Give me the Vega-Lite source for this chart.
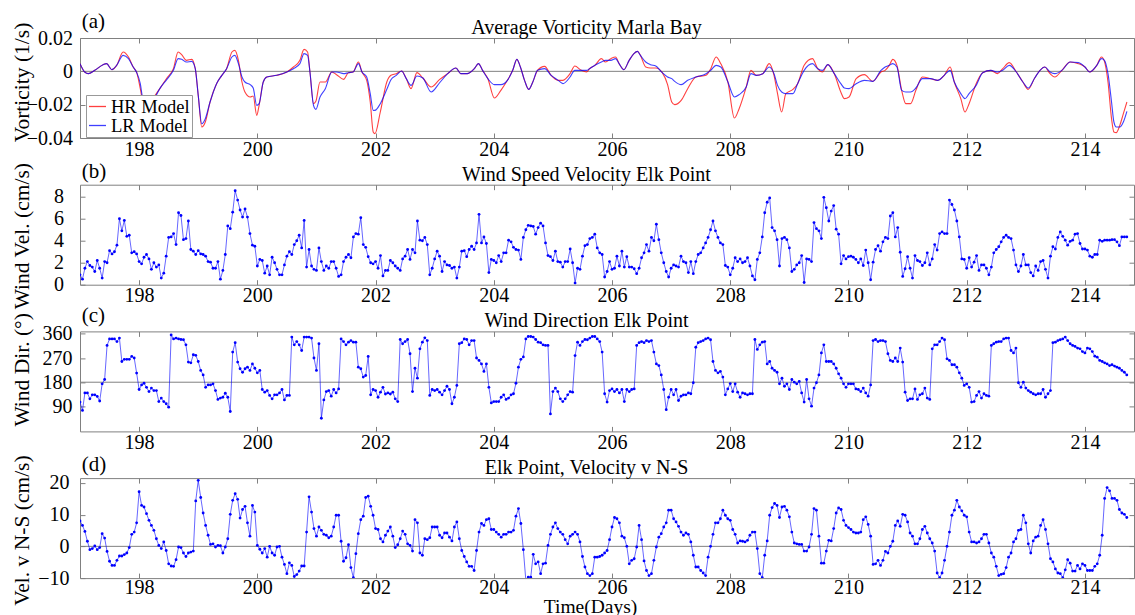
{
"$schema":"https://vega.github.io/schema/vega-lite/v6.json",
"background":"white",
"padding":{"left":10,"top":10,"right":0,"bottom":0},
"spacing":46.7,
"bounds":"flush",
"config":{
"font":"Liberation Serif",
"view":{"stroke":"#808080","strokeWidth":1},
"axis":{"domain":false,"grid":false,"tickColor":"#808080","tickSize":-5,"labelFont":"Liberation Serif","labelFontSize":20,"labelColor":"#000","titleFont":"Liberation Serif","titleFontSize":21.5,"titleFontWeight":"normal","titleColor":"#000"},
"text":{"font":"Liberation Serif"}
},
"datasets":{
"vort":[
{"t":197,"hr":0.0046,"lr":0.0046},{"t":197.08,"hr":-0.0004,"lr":-0.0004},{"t":197.14,"hr":-0.0014,"lr":-0.0014},{"t":197.25,"hr":0.0006,"lr":0.0006},{"t":197.39,"hr":0.004,"lr":0.004},{"t":197.45,"hr":0.0046,"lr":0.0046},{"t":197.54,"hr":0.001,"lr":0.001},{"t":197.62,"hr":0.0036,"lr":0.0036},{"t":197.73,"hr":0.0116,"lr":0.0096},{"t":197.82,"hr":0.0086,"lr":0.0076},{"t":197.9,"hr":0.0026,"lr":0.0026},{"t":197.96,"hr":-0.0008,"lr":-0.0008},
{"t":198.02,"hr":-0.0104,"lr":-0.0074},{"t":198.06,"hr":-0.018,"lr":-0.016},{"t":198.15,"hr":-0.024,"lr":-0.021},{"t":198.24,"hr":-0.0164,"lr":-0.0174},{"t":198.35,"hr":-0.0104,"lr":-0.0104},{"t":198.47,"hr":-0.004,"lr":-0.0048},{"t":198.58,"hr":0.0016,"lr":0.0006},{"t":198.66,"hr":0.0116,"lr":0.0076},{"t":198.72,"hr":0.01,"lr":0.0072},{"t":198.8,"hr":0.0066,"lr":0.0056},{"t":198.89,"hr":0.0072,"lr":0.006},{"t":198.95,"hr":0.0016,"lr":0.0016},
{"t":199,"hr":-0.0144,"lr":-0.0144},{"t":199.06,"hr":-0.0334,"lr":-0.0314},{"t":199.12,"hr":-0.0304,"lr":-0.0284},{"t":199.2,"hr":-0.0184,"lr":-0.0184},{"t":199.31,"hr":-0.0074,"lr":-0.0074},{"t":199.4,"hr":-0.0024,"lr":-0.0024},{"t":199.48,"hr":0.0016,"lr":0.0016},{"t":199.57,"hr":0.0116,"lr":0.0086},{"t":199.62,"hr":0.0126,"lr":0.0096},{"t":199.68,"hr":0.0066,"lr":0.0046},{"t":199.74,"hr":-0.0064,"lr":-0.0034},{"t":199.79,"hr":-0.0124,"lr":-0.0064},{"t":199.88,"hr":-0.0154,"lr":-0.008},{"t":199.93,"hr":-0.0148,"lr":-0.01},{"t":199.99,"hr":-0.0264,"lr":-0.0204},
{"t":200.03,"hr":-0.0204,"lr":-0.0194},{"t":200.1,"hr":-0.0064,"lr":-0.0064},{"t":200.16,"hr":-0.0034,"lr":-0.0034},{"t":200.33,"hr":-0.0024,"lr":-0.0024},{"t":200.5,"hr":-0.0004,"lr":-0.0004},{"t":200.61,"hr":0.0026,"lr":0.0016},{"t":200.72,"hr":0.0066,"lr":0.0046},{"t":200.79,"hr":0.0132,"lr":0.0106},{"t":200.85,"hr":0.0116,"lr":0.0096},{"t":200.89,"hr":-0.0004,"lr":-0.0004},{"t":200.95,"hr":-0.0194,"lr":-0.0204},{"t":200.99,"hr":-0.018,"lr":-0.0228},
{"t":201.06,"hr":-0.0064,"lr":-0.0154},{"t":201.15,"hr":-0.0064,"lr":-0.0104},{"t":201.26,"hr":-0.0004,"lr":-0.0004},{"t":201.34,"hr":-0.002,"lr":-0.0004},{"t":201.46,"hr":-0.0048,"lr":-0.0014},{"t":201.54,"hr":-0.0008,"lr":-0.0008},{"t":201.62,"hr":-0.0004,"lr":-0.0004},{"t":201.71,"hr":0.0056,"lr":0.0046},{"t":201.77,"hr":-0.0004,"lr":-0.0004},{"t":201.85,"hr":-0.0054,"lr":-0.0034},{"t":201.91,"hr":-0.0184,"lr":-0.0134},{"t":201.96,"hr":-0.0364,"lr":-0.0234},{"t":201.99,"hr":-0.0374,"lr":-0.0234},
{"t":202.08,"hr":-0.0244,"lr":-0.0194},{"t":202.19,"hr":-0.0064,"lr":-0.0108},{"t":202.26,"hr":-0.0024,"lr":-0.005},{"t":202.35,"hr":-0.0014,"lr":-0.0024},{"t":202.44,"hr":0.0002,"lr":0.0002},{"t":202.52,"hr":-0.0044,"lr":-0.0044},{"t":202.6,"hr":-0.0104,"lr":-0.0084},{"t":202.7,"hr":-0.0008,"lr":-0.0028},{"t":202.8,"hr":-0.004,"lr":-0.004},{"t":202.94,"hr":-0.0094,"lr":-0.0124},
{"t":203.08,"hr":-0.005,"lr":-0.007},{"t":203.22,"hr":-0.0014,"lr":-0.0014},{"t":203.36,"hr":0.002,"lr":0.002},{"t":203.44,"hr":-0.0014,"lr":-0.0014},{"t":203.55,"hr":-0.0014,"lr":-0.0014},{"t":203.67,"hr":0.0016,"lr":0.0016},{"t":203.74,"hr":0.0046,"lr":0.0046},{"t":203.81,"hr":0.0006,"lr":0.0006},{"t":203.9,"hr":-0.0044,"lr":-0.0044},
{"t":204.01,"hr":-0.016,"lr":-0.008},{"t":204.12,"hr":-0.0114,"lr":-0.008},{"t":204.23,"hr":-0.0054,"lr":-0.0054},{"t":204.32,"hr":0.0006,"lr":0.0006},{"t":204.39,"hr":0.0072,"lr":0.0072},{"t":204.45,"hr":0.0026,"lr":0.0026},{"t":204.52,"hr":-0.0054,"lr":-0.0054},{"t":204.59,"hr":-0.0108,"lr":-0.0108},{"t":204.66,"hr":-0.0064,"lr":-0.0064},{"t":204.74,"hr":0.0006,"lr":0.0006},{"t":204.86,"hr":0.003,"lr":0.0016},{"t":204.97,"hr":-0.0024,"lr":-0.0024},
{"t":205.09,"hr":-0.0054,"lr":-0.0054},{"t":205.17,"hr":-0.0054,"lr":-0.0074},{"t":205.29,"hr":-0.0014,"lr":-0.0034},{"t":205.37,"hr":0.0032,"lr":0.0006},{"t":205.48,"hr":0.0006,"lr":0.0006},{"t":205.57,"hr":-0.0004,"lr":0.0006},{"t":205.62,"hr":0.0016,"lr":0.0016},{"t":205.71,"hr":0.0036,"lr":0.0036},{"t":205.82,"hr":0.0076,"lr":0.0056},{"t":205.89,"hr":0.0056,"lr":0.0066},{"t":205.98,"hr":0.0076,"lr":0.0066},
{"t":206.06,"hr":0.0086,"lr":0.0076},{"t":206.12,"hr":0.0046,"lr":0.0046},{"t":206.2,"hr":0.001,"lr":0.001},{"t":206.29,"hr":0.0066,"lr":0.0066},{"t":206.37,"hr":0.0106,"lr":0.0106},{"t":206.43,"hr":0.012,"lr":0.012},{"t":206.48,"hr":0.0096,"lr":0.0096},{"t":206.57,"hr":0.0026,"lr":0.0056},{"t":206.65,"hr":0.002,"lr":0.004},{"t":206.74,"hr":0.002,"lr":0.0032},{"t":206.85,"hr":-0.0008,"lr":-0.0008},{"t":206.94,"hr":-0.008,"lr":-0.0034},
{"t":207.01,"hr":-0.0184,"lr":-0.0044},{"t":207.06,"hr":-0.02,"lr":-0.006},{"t":207.17,"hr":-0.0174,"lr":-0.008},{"t":207.28,"hr":-0.0104,"lr":-0.0054},{"t":207.42,"hr":-0.0034,"lr":-0.0034},{"t":207.59,"hr":-0.0024,"lr":-0.0014},{"t":207.67,"hr":0.0016,"lr":0.0006},{"t":207.76,"hr":0.0086,"lr":0.0036},{"t":207.84,"hr":0.0046,"lr":0.0026},{"t":207.96,"hr":-0.0064,"lr":-0.0064},
{"t":208.07,"hr":-0.028,"lr":-0.0154},{"t":208.15,"hr":-0.0224,"lr":-0.014},{"t":208.27,"hr":-0.0094,"lr":-0.0094},{"t":208.35,"hr":0.0006,"lr":-0.0014},{"t":208.44,"hr":-0.0024,"lr":-0.0024},{"t":208.55,"hr":-0.0014,"lr":-0.0014},{"t":208.66,"hr":0.0046,"lr":0.0026},{"t":208.74,"hr":-0.0024,"lr":-0.0014},{"t":208.8,"hr":-0.0134,"lr":-0.0084},{"t":208.87,"hr":-0.0244,"lr":-0.0124},{"t":208.94,"hr":-0.0134,"lr":-0.0134},
{"t":209.06,"hr":-0.0108,"lr":-0.0134},{"t":209.14,"hr":-0.0074,"lr":-0.0074},{"t":209.25,"hr":0.0036,"lr":0.0006},{"t":209.39,"hr":0.0076,"lr":0.0046},{"t":209.48,"hr":0.0016,"lr":0.0016},{"t":209.56,"hr":-0.0004,"lr":0.0006},{"t":209.65,"hr":0.004,"lr":0.004},{"t":209.76,"hr":-0.0014,"lr":-0.0014},{"t":209.87,"hr":-0.0124,"lr":-0.0074},{"t":209.93,"hr":-0.0164,"lr":-0.01},
{"t":210.01,"hr":-0.0154,"lr":-0.0104},{"t":210.13,"hr":-0.0044,"lr":-0.0074},{"t":210.27,"hr":-0.002,"lr":-0.0054},{"t":210.41,"hr":-0.006,"lr":-0.006},{"t":210.55,"hr":-0.0004,"lr":0.0006},{"t":210.62,"hr":0.0006,"lr":0.0026},{"t":210.69,"hr":0.0036,"lr":0.0036},{"t":210.75,"hr":0.0072,"lr":0.0046},{"t":210.82,"hr":0.0036,"lr":0.0026},{"t":210.9,"hr":-0.0114,"lr":-0.0114},{"t":210.97,"hr":-0.0194,"lr":-0.0124},
{"t":211.05,"hr":-0.0194,"lr":-0.0124},{"t":211.14,"hr":-0.0114,"lr":-0.01},{"t":211.25,"hr":-0.0034,"lr":-0.0044},{"t":211.39,"hr":-0.0044,"lr":-0.0044},{"t":211.51,"hr":-0.0054,"lr":-0.0054},{"t":211.62,"hr":-0.0024,"lr":-0.0024},{"t":211.72,"hr":0.0026,"lr":0.0006},{"t":211.79,"hr":-0.0064,"lr":-0.0064},{"t":211.9,"hr":-0.0164,"lr":-0.0134},{"t":211.97,"hr":-0.0244,"lr":-0.0164},
{"t":212.04,"hr":-0.0194,"lr":-0.0134},{"t":212.16,"hr":-0.0074,"lr":-0.0084},{"t":212.27,"hr":-0.0008,"lr":-0.0008},{"t":212.41,"hr":0.0006,"lr":0.0006},{"t":212.52,"hr":-0.0014,"lr":-0.0004},{"t":212.61,"hr":0.0016,"lr":0.0006},{"t":212.72,"hr":0.0052,"lr":0.0036},{"t":212.84,"hr":-0.0004,"lr":-0.0004},{"t":212.95,"hr":-0.0064,"lr":-0.0064},
{"t":213.04,"hr":-0.0108,"lr":-0.01},{"t":213.15,"hr":-0.004,"lr":-0.004},{"t":213.24,"hr":0.0006,"lr":0.0006},{"t":213.32,"hr":0.0026,"lr":0.0026},{"t":213.41,"hr":-0.0014,"lr":-0.0004},{"t":213.49,"hr":-0.0034,"lr":-0.0014},{"t":213.61,"hr":0.0006,"lr":0.0006},{"t":213.75,"hr":0.0056,"lr":0.0056},{"t":213.89,"hr":0.0046,"lr":0.0052},
{"t":214,"hr":0.0026,"lr":0.0026},{"t":214.08,"hr":-0.0004,"lr":-0.0004},{"t":214.2,"hr":0.0036,"lr":0.0036},{"t":214.28,"hr":0.0086,"lr":0.0076},{"t":214.33,"hr":0.006,"lr":0.0066},{"t":214.39,"hr":-0.0064,"lr":-0.0014},{"t":214.45,"hr":-0.0284,"lr":-0.0184},{"t":214.49,"hr":-0.0364,"lr":-0.0304},{"t":214.53,"hr":-0.0368,"lr":-0.0334},{"t":214.59,"hr":-0.0324,"lr":-0.0334},{"t":214.65,"hr":-0.0254,"lr":-0.0304},{"t":214.71,"hr":-0.0184,"lr":-0.024}
],
"elk":[
{"t":197,"w":0.9,"d":106,"n":8},{"t":197.042,"w":0.5,"d":75,"n":6.6},{"t":197.083,"w":1.5,"d":140,"n":4.7},{"t":197.125,"w":2.1,"d":140,"n":1.6},{"t":197.167,"w":1.75,"d":118,"n":-1.05},{"t":197.208,"w":1.6,"d":133,"n":-0.7},{"t":197.25,"w":1.2,"d":133,"n":0.1},{"t":197.292,"w":2.2,"d":127,"n":-1.05},{"t":197.333,"w":1.5,"d":110,"n":-0.4},{"t":197.375,"w":0.6,"d":174,"n":4},{"t":197.417,"w":2.1,"d":190,"n":2.6},{"t":197.458,"w":2,"d":317,"n":-1.6},{"t":197.5,"w":3.1,"d":341,"n":-4.7},{"t":197.542,"w":2.8,"d":341,"n":-6},{"t":197.583,"w":3,"d":341,"n":-6},{"t":197.625,"w":3.6,"d":331,"n":-4.4},{"t":197.667,"w":6,"d":344,"n":-3.05},{"t":197.708,"w":4.9,"d":257,"n":-3.05},{"t":197.75,"w":5.85,"d":265,"n":-2.6},{"t":197.792,"w":4.4,"d":265,"n":-2.1},{"t":197.833,"w":4.5,"d":265,"n":-0.4},{"t":197.875,"w":2.9,"d":276,"n":3.8},{"t":197.917,"w":3,"d":270,"n":4.5},{"t":197.958,"w":2.8,"d":214,"n":7.4},
{"t":198,"w":2.1,"d":153,"n":17.2},{"t":198.042,"w":1.9,"d":170,"n":12.9},{"t":198.083,"w":2.5,"d":176,"n":12.4},{"t":198.125,"w":2.75,"d":161,"n":10.3},{"t":198.167,"w":2.35,"d":145,"n":8.2},{"t":198.208,"w":1.4,"d":158,"n":6.6},{"t":198.25,"w":2,"d":149,"n":5.05},{"t":198.292,"w":1.6,"d":149,"n":2.4},{"t":198.333,"w":1.8,"d":108,"n":0.3},{"t":198.375,"w":0.6,"d":121,"n":-0.7},{"t":198.417,"w":1.05,"d":108,"n":1.4},{"t":198.458,"w":2.6,"d":100,"n":-1.3},{"t":198.5,"w":4.3,"d":87,"n":-5.5},{"t":198.542,"w":4.35,"d":356,"n":-6.2},{"t":198.583,"w":4.65,"d":341,"n":-6.3},{"t":198.625,"w":3.65,"d":344,"n":-4.2},{"t":198.667,"w":6.55,"d":341,"n":-0.2},{"t":198.708,"w":6.3,"d":339,"n":-0.4},{"t":198.75,"w":4.1,"d":338,"n":-2.1},{"t":198.792,"w":4.2,"d":319,"n":-3.2},{"t":198.833,"w":5.8,"d":255,"n":-2.1},{"t":198.875,"w":3.2,"d":252,"n":-1.8},{"t":198.917,"w":3.05,"d":282,"n":-1.5},{"t":198.958,"w":2.75,"d":280,"n":14.3},
{"t":199,"w":3.1,"d":257,"n":20.8},{"t":199.042,"w":2.8,"d":224,"n":15.4},{"t":199.083,"w":2.75,"d":207,"n":10.5},{"t":199.125,"w":2.6,"d":161,"n":6.6},{"t":199.167,"w":2.1,"d":170,"n":3.5},{"t":199.208,"w":2.05,"d":170,"n":0.6},{"t":199.25,"w":1.5,"d":174,"n":0.8},{"t":199.292,"w":1.5,"d":149,"n":-0.2},{"t":199.333,"w":2.1,"d":116,"n":0.3},{"t":199.375,"w":0.5,"d":121,"n":0.2},{"t":199.417,"w":1.3,"d":124,"n":-2.1},{"t":199.458,"w":2.75,"d":139,"n":-0.2},{"t":199.5,"w":5.35,"d":124,"n":2.4},{"t":199.542,"w":5.1,"d":71,"n":10.1},{"t":199.583,"w":6.6,"d":292,"n":14.5},{"t":199.625,"w":8.55,"d":327,"n":16.6},{"t":199.667,"w":7.7,"d":255,"n":14.8},{"t":199.708,"w":6.8,"d":230,"n":8.9},{"t":199.75,"w":6.15,"d":217,"n":11.6},{"t":199.792,"w":6.9,"d":230,"n":12.6},{"t":199.833,"w":6.15,"d":236,"n":7.4},{"t":199.875,"w":4.65,"d":224,"n":3.2},{"t":199.917,"w":3.6,"d":248,"n":12.9},{"t":199.958,"w":3.5,"d":232,"n":10.8},
{"t":200,"w":1.7,"d":215,"n":0.3},{"t":200.042,"w":2.3,"d":224,"n":-0.9},{"t":200.083,"w":2.2,"d":153,"n":-2.1},{"t":200.125,"w":1.05,"d":143,"n":-0.7},{"t":200.167,"w":1.7,"d":149,"n":-3.4},{"t":200.208,"w":0.9,"d":131,"n":0},{"t":200.25,"w":2.5,"d":118,"n":-2.1},{"t":200.292,"w":2,"d":133,"n":-2.8},{"t":200.333,"w":1.4,"d":133,"n":-0.2},{"t":200.375,"w":0.9,"d":140,"n":0},{"t":200.417,"w":0.9,"d":153,"n":-3.4},{"t":200.458,"w":1.8,"d":114,"n":-5.7},{"t":200.5,"w":2.6,"d":131,"n":-8.6},{"t":200.542,"w":3,"d":131,"n":-5.2},{"t":200.583,"w":2.75,"d":348,"n":-6},{"t":200.625,"w":3.65,"d":319,"n":-9.5},{"t":200.667,"w":4,"d":331,"n":-8.9},{"t":200.708,"w":4.5,"d":319,"n":-7.8},{"t":200.75,"w":3.35,"d":298,"n":-6.2},{"t":200.792,"w":5.85,"d":348,"n":-6.2},{"t":200.833,"w":1.6,"d":348,"n":4.5},{"t":200.875,"w":3.2,"d":348,"n":15.6},{"t":200.917,"w":1.7,"d":344,"n":10.8},{"t":200.958,"w":1.4,"d":270,"n":5.6},
{"t":201,"w":1.3,"d":224,"n":3.2},{"t":201.042,"w":3.35,"d":323,"n":6.1},{"t":201.083,"w":2.1,"d":46,"n":5.05},{"t":201.125,"w":1.3,"d":114,"n":3.8},{"t":201.167,"w":1.7,"d":145,"n":3.5},{"t":201.208,"w":1.5,"d":149,"n":2.7},{"t":201.25,"w":2.1,"d":128,"n":3.2},{"t":201.292,"w":2.1,"d":153,"n":6.1},{"t":201.333,"w":1.5,"d":140,"n":9.8},{"t":201.375,"w":0.75,"d":155,"n":9.8},{"t":201.417,"w":0.9,"d":341,"n":1.6},{"t":201.458,"w":2.1,"d":331,"n":-4.7},{"t":201.5,"w":2.5,"d":319,"n":-3.6},{"t":201.542,"w":2.75,"d":329,"n":0.5},{"t":201.583,"w":2.45,"d":335,"n":-6.7},{"t":201.625,"w":4.35,"d":329,"n":-9.9},{"t":201.667,"w":4.65,"d":329,"n":-2.3},{"t":201.708,"w":4.6,"d":236,"n":4},{"t":201.75,"w":6.1,"d":230,"n":8.4},{"t":201.792,"w":3.65,"d":199,"n":9.5},{"t":201.833,"w":3.4,"d":205,"n":15.4},{"t":201.875,"w":2.55,"d":276,"n":15.8},{"t":201.917,"w":2,"d":133,"n":12.6},{"t":201.958,"w":1.9,"d":153,"n":9.8},
{"t":202,"w":2.1,"d":149,"n":5.6},{"t":202.042,"w":1.5,"d":124,"n":5.3},{"t":202.083,"w":2.65,"d":143,"n":2.4},{"t":202.125,"w":0.8,"d":161,"n":1.4},{"t":202.167,"w":1.3,"d":136,"n":3.5},{"t":202.208,"w":1.3,"d":140,"n":4.8},{"t":202.25,"w":2.2,"d":136,"n":6.1},{"t":202.292,"w":2,"d":143,"n":3.2},{"t":202.333,"w":1.7,"d":118,"n":-0.4},{"t":202.375,"w":1.5,"d":108,"n":0.5},{"t":202.417,"w":1.3,"d":339,"n":2.4},{"t":202.458,"w":2.35,"d":323,"n":4.8},{"t":202.5,"w":2.6,"d":331,"n":3.8},{"t":202.542,"w":3.2,"d":339,"n":0.8},{"t":202.583,"w":2.3,"d":286,"n":0.3},{"t":202.625,"w":3.2,"d":145,"n":-1.5},{"t":202.667,"w":2.9,"d":232,"n":8.4},{"t":202.708,"w":5.8,"d":195,"n":7.4},{"t":202.75,"w":4.05,"d":304,"n":-2.1},{"t":202.792,"w":4,"d":329,"n":-2.8},{"t":202.833,"w":4.3,"d":345,"n":2.4},{"t":202.875,"w":3.65,"d":335,"n":2.1},{"t":202.917,"w":0.9,"d":131,"n":2.7},{"t":202.958,"w":1.5,"d":153,"n":6.1},
{"t":203,"w":2.35,"d":149,"n":6.1},{"t":203.042,"w":3.05,"d":153,"n":6.1},{"t":203.083,"w":2.6,"d":143,"n":3.5},{"t":203.125,"w":1.2,"d":133,"n":2.7},{"t":203.167,"w":2.1,"d":149,"n":4.2},{"t":203.208,"w":1.8,"d":165,"n":4.2},{"t":203.25,"w":1.75,"d":153,"n":2.9},{"t":203.292,"w":1.5,"d":100,"n":1.7},{"t":203.333,"w":1.6,"d":124,"n":6.1},{"t":203.375,"w":0.6,"d":168,"n":7.7},{"t":203.417,"w":1.6,"d":323,"n":2.4},{"t":203.458,"w":3.05,"d":327,"n":-1.3},{"t":203.5,"w":3.1,"d":341,"n":-3.2},{"t":203.542,"w":2.55,"d":339,"n":-4.9},{"t":203.583,"w":3.2,"d":319,"n":-6.3},{"t":203.625,"w":3.5,"d":335,"n":-6.3},{"t":203.667,"w":3.2,"d":335,"n":-7.6},{"t":203.708,"w":3.8,"d":270,"n":-1.3},{"t":203.75,"w":6.4,"d":261,"n":4.5},{"t":203.792,"w":3.8,"d":248,"n":7.2},{"t":203.833,"w":4.35,"d":220,"n":6.6},{"t":203.875,"w":3.75,"d":248,"n":8.4},{"t":203.917,"w":1.1,"d":161,"n":8.7},{"t":203.958,"w":2.3,"d":103,"n":5.3},
{"t":204,"w":2.2,"d":108,"n":5.3},{"t":204.042,"w":2,"d":108,"n":4.5},{"t":204.083,"w":2.65,"d":108,"n":3.8},{"t":204.125,"w":2.1,"d":124,"n":2.9},{"t":204.167,"w":2.9,"d":133,"n":3.8},{"t":204.208,"w":2.9,"d":116,"n":3.8},{"t":204.25,"w":4.05,"d":121,"n":4.5},{"t":204.292,"w":3.9,"d":133,"n":4.5},{"t":204.333,"w":3.4,"d":137,"n":5.05},{"t":204.375,"w":3.2,"d":176,"n":9.5},{"t":204.417,"w":3.15,"d":236,"n":11.9},{"t":204.458,"w":2.3,"d":265,"n":7.2},{"t":204.5,"w":4.3,"d":274,"n":-1.05},{"t":204.542,"w":5,"d":341,"n":-10.7},{"t":204.583,"w":5.4,"d":350,"n":-9.7},{"t":204.625,"w":5.35,"d":350,"n":-9.7},{"t":204.667,"w":5.3,"d":348,"n":-2.5},{"t":204.708,"w":4.6,"d":339,"n":-5.5},{"t":204.75,"w":5.2,"d":329,"n":-4.9},{"t":204.792,"w":5.6,"d":327,"n":-8.6},{"t":204.833,"w":5.35,"d":319,"n":-5.5},{"t":204.875,"w":3.8,"d":317,"n":-5.3},{"t":204.917,"w":2.65,"d":317,"n":0.3},{"t":204.958,"w":2.55,"d":62,"n":3.8},
{"t":205,"w":2.2,"d":145,"n":6.1},{"t":205.042,"w":3.05,"d":158,"n":7.4},{"t":205.083,"w":2.1,"d":145,"n":5.6},{"t":205.125,"w":2.05,"d":118,"n":4.5},{"t":205.167,"w":1.6,"d":108,"n":3.8},{"t":205.208,"w":2.1,"d":118,"n":2.1},{"t":205.25,"w":2.1,"d":133,"n":0.8},{"t":205.292,"w":3.25,"d":145,"n":3.2},{"t":205.333,"w":2,"d":143,"n":3.8},{"t":205.375,"w":0.15,"d":279,"n":4.5},{"t":205.417,"w":1.5,"d":329,"n":3.8},{"t":205.458,"w":1.4,"d":317,"n":1.4},{"t":205.5,"w":2.6,"d":331,"n":-3.2},{"t":205.542,"w":3.55,"d":339,"n":-6.5},{"t":205.583,"w":3.65,"d":338,"n":-8.6},{"t":205.625,"w":4.2,"d":344,"n":-9.2},{"t":205.667,"w":4.3,"d":350,"n":-8.6},{"t":205.708,"w":4.6,"d":350,"n":-3.4},{"t":205.75,"w":3.35,"d":341,"n":-3.4},{"t":205.792,"w":2.9,"d":331,"n":-3.2},{"t":205.833,"w":2.75,"d":292,"n":-2.8},{"t":205.875,"w":0.7,"d":137,"n":-2.1},{"t":205.917,"w":1.2,"d":106,"n":-1.3},{"t":205.958,"w":2.1,"d":149,"n":2.1},
{"t":206,"w":1.4,"d":155,"n":6.1},{"t":206.042,"w":1.5,"d":145,"n":9.1},{"t":206.083,"w":2.6,"d":153,"n":8.7},{"t":206.125,"w":1.7,"d":140,"n":7.4},{"t":206.167,"w":3.05,"d":153,"n":3.2},{"t":206.208,"w":1.6,"d":108,"n":2.7},{"t":206.25,"w":2.55,"d":153,"n":0},{"t":206.292,"w":1.6,"d":145,"n":-5.5},{"t":206.333,"w":1.6,"d":153,"n":-4.4},{"t":206.375,"w":1.45,"d":155,"n":-3.9},{"t":206.417,"w":1,"d":317,"n":-0.2},{"t":206.458,"w":1.5,"d":327,"n":6.6},{"t":206.5,"w":2.45,"d":331,"n":2.1},{"t":206.542,"w":2.9,"d":327,"n":-4.6},{"t":206.583,"w":3.65,"d":335,"n":-7.6},{"t":206.625,"w":3.05,"d":331,"n":-9.2},{"t":206.667,"w":4.3,"d":335,"n":-8.6},{"t":206.708,"w":4,"d":292,"n":-4.4},{"t":206.75,"w":5.5,"d":248,"n":-0.2},{"t":206.792,"w":4.1,"d":242,"n":2.9},{"t":206.833,"w":2.9,"d":207,"n":4},{"t":206.875,"w":2,"d":153,"n":6.1},{"t":206.917,"w":1.2,"d":78,"n":7.4},{"t":206.958,"w":0.7,"d":124,"n":11.4},
{"t":207,"w":1.5,"d":153,"n":11.4},{"t":207.042,"w":1.8,"d":133,"n":8.7},{"t":207.083,"w":1.7,"d":153,"n":7.7},{"t":207.125,"w":1.6,"d":112,"n":6.3},{"t":207.167,"w":2.6,"d":128,"n":4.5},{"t":207.208,"w":2.1,"d":133,"n":3.5},{"t":207.25,"w":2,"d":133,"n":4.2},{"t":207.292,"w":1.1,"d":140,"n":3.8},{"t":207.333,"w":2.1,"d":137,"n":1.4},{"t":207.375,"w":1,"d":178,"n":-2.8},{"t":207.417,"w":2.1,"d":310,"n":-6.5},{"t":207.458,"w":2.75,"d":327,"n":-6.5},{"t":207.5,"w":2.9,"d":331,"n":-7.6},{"t":207.542,"w":3.35,"d":335,"n":-8.4},{"t":207.583,"w":3.8,"d":341,"n":-9.2},{"t":207.625,"w":4.3,"d":344,"n":-3.4},{"t":207.667,"w":5,"d":338,"n":0},{"t":207.708,"w":5.8,"d":257,"n":3.8},{"t":207.75,"w":4.9,"d":224,"n":7.4},{"t":207.792,"w":4.3,"d":215,"n":7.4},{"t":207.833,"w":3.8,"d":220,"n":8.7},{"t":207.875,"w":3.65,"d":199,"n":11.4},{"t":207.917,"w":1.75,"d":133,"n":9.8},{"t":207.958,"w":1.6,"d":155,"n":8.7},
{"t":208,"w":0.9,"d":175,"n":8.2},{"t":208.042,"w":1.5,"d":145,"n":5.3},{"t":208.083,"w":2.45,"d":174,"n":3.8},{"t":208.125,"w":2.1,"d":143,"n":1.05},{"t":208.167,"w":2.35,"d":124,"n":1.7},{"t":208.208,"w":2,"d":140,"n":1.6},{"t":208.25,"w":2.1,"d":137,"n":1.4},{"t":208.292,"w":2.45,"d":133,"n":1.9},{"t":208.333,"w":1.7,"d":137,"n":3.5},{"t":208.375,"w":0.8,"d":137,"n":4.5},{"t":208.417,"w":0.45,"d":339,"n":4.5},{"t":208.458,"w":2.3,"d":302,"n":-0.7},{"t":208.5,"w":2.9,"d":319,"n":-8.6},{"t":208.542,"w":4.35,"d":329,"n":-9.9},{"t":208.583,"w":6.55,"d":331,"n":-2.8},{"t":208.625,"w":7.5,"d":248,"n":1.7},{"t":208.667,"w":7.9,"d":257,"n":9.8},{"t":208.708,"w":5.2,"d":232,"n":12.2},{"t":208.75,"w":4.9,"d":224,"n":13.5},{"t":208.792,"w":4.1,"d":217,"n":12.9},{"t":208.833,"w":1.7,"d":174,"n":9.1},{"t":208.875,"w":4.2,"d":195,"n":12.4},{"t":208.917,"w":4.3,"d":165,"n":12.6},{"t":208.958,"w":4.1,"d":174,"n":11.4},
{"t":209,"w":3.35,"d":153,"n":9.3},{"t":209.042,"w":1.2,"d":190,"n":4.5},{"t":209.083,"w":1.4,"d":180,"n":1.05},{"t":209.125,"w":1.8,"d":174,"n":0.8},{"t":209.167,"w":2,"d":183,"n":0.6},{"t":209.208,"w":2.65,"d":140,"n":0.6},{"t":209.25,"w":0.2,"d":106,"n":-1.5},{"t":209.292,"w":2.35,"d":190,"n":-1.5},{"t":209.333,"w":2.3,"d":118,"n":-0.2},{"t":209.375,"w":2.1,"d":91,"n":3.8},{"t":209.417,"w":5.65,"d":158,"n":11.9},{"t":209.458,"w":5.1,"d":178,"n":11.4},{"t":209.5,"w":4.9,"d":207,"n":3.2},{"t":209.542,"w":4.2,"d":289,"n":-5.3},{"t":209.583,"w":7.95,"d":319,"n":-5.3},{"t":209.625,"w":7,"d":257,"n":-1.5},{"t":209.667,"w":5.8,"d":257,"n":1.9},{"t":209.708,"w":6.7,"d":257,"n":1.7},{"t":209.75,"w":7.2,"d":248,"n":5.6},{"t":209.792,"w":5.05,"d":232,"n":10.5},{"t":209.833,"w":4.6,"d":211,"n":12.1},{"t":209.875,"w":1.9,"d":195,"n":11.6},{"t":209.917,"w":2.65,"d":174,"n":8.2},{"t":209.958,"w":2.35,"d":161,"n":6.6},
{"t":210,"w":2.55,"d":174,"n":5.9},{"t":210.042,"w":2.6,"d":174,"n":5.3},{"t":210.083,"w":2.5,"d":174,"n":4.5},{"t":210.125,"w":2.3,"d":155,"n":4.2},{"t":210.167,"w":2,"d":153,"n":4.2},{"t":210.208,"w":2.35,"d":145,"n":4.5},{"t":210.25,"w":1.75,"d":158,"n":8.4},{"t":210.292,"w":3.15,"d":140,"n":9.3},{"t":210.333,"w":2,"d":128,"n":6.9},{"t":210.375,"w":0.45,"d":170,"n":3.2},{"t":210.417,"w":2.05,"d":335,"n":-5.7},{"t":210.458,"w":3.2,"d":339,"n":-5.5},{"t":210.5,"w":3.55,"d":331,"n":-4.4},{"t":210.542,"w":3.05,"d":335,"n":-6},{"t":210.583,"w":3.9,"d":335,"n":-4.4},{"t":210.625,"w":4.3,"d":331,"n":-1.6},{"t":210.667,"w":4.2,"d":286,"n":-2.1},{"t":210.708,"w":6.25,"d":261,"n":0},{"t":210.75,"w":6.55,"d":257,"n":1.6},{"t":210.792,"w":4.35,"d":270,"n":6.6},{"t":210.833,"w":5.2,"d":257,"n":8},{"t":210.875,"w":2.95,"d":307,"n":6.3},{"t":210.917,"w":0.75,"d":255,"n":10.1},{"t":210.958,"w":1.45,"d":143,"n":9.8},
{"t":211,"w":2.55,"d":112,"n":7.7},{"t":211.042,"w":1.5,"d":118,"n":4.2},{"t":211.083,"w":0.6,"d":118,"n":3.2},{"t":211.125,"w":2.65,"d":155,"n":0.8},{"t":211.167,"w":2.2,"d":116,"n":0.8},{"t":211.208,"w":2.1,"d":133,"n":2.4},{"t":211.25,"w":1.75,"d":137,"n":5.3},{"t":211.292,"w":2,"d":158,"n":6.3},{"t":211.333,"w":2.9,"d":121,"n":4.2},{"t":211.375,"w":1.8,"d":116,"n":2.4},{"t":211.417,"w":2.35,"d":304,"n":1.05},{"t":211.458,"w":3.65,"d":319,"n":-1.5},{"t":211.5,"w":3.15,"d":319,"n":-8.4},{"t":211.542,"w":4.65,"d":331,"n":-9.9},{"t":211.583,"w":4.8,"d":344,"n":-8.4},{"t":211.625,"w":4.65,"d":338,"n":-4.4},{"t":211.667,"w":4.65,"d":267,"n":0},{"t":211.708,"w":7.7,"d":261,"n":4.5},{"t":211.75,"w":7.3,"d":245,"n":9.8},{"t":211.792,"w":6.8,"d":245,"n":11.4},{"t":211.833,"w":5.8,"d":236,"n":14.5},{"t":211.875,"w":4.35,"d":215,"n":12.4},{"t":211.917,"w":2.35,"d":195,"n":11.2},{"t":211.958,"w":2.3,"d":168,"n":9.8},
{"t":212,"w":1.5,"d":174,"n":9.3},{"t":212.042,"w":2.45,"d":161,"n":4.5},{"t":212.083,"w":1.6,"d":106,"n":1.4},{"t":212.125,"w":2.05,"d":108,"n":1.4},{"t":212.167,"w":2.65,"d":131,"n":1.05},{"t":212.208,"w":1.3,"d":145,"n":1.4},{"t":212.25,"w":1.8,"d":121,"n":2.4},{"t":212.292,"w":1.8,"d":137,"n":3.8},{"t":212.333,"w":1.5,"d":131,"n":3.8},{"t":212.375,"w":0.9,"d":128,"n":1.05},{"t":212.417,"w":1.6,"d":317,"n":-2.1},{"t":212.458,"w":2.9,"d":323,"n":-3.4},{"t":212.5,"w":3.2,"d":329,"n":-6.3},{"t":212.542,"w":3.45,"d":331,"n":-9.2},{"t":212.583,"w":3.9,"d":331,"n":-8.8},{"t":212.625,"w":4.3,"d":341,"n":-8.6},{"t":212.667,"w":4.5,"d":344,"n":-6.7},{"t":212.708,"w":4.3,"d":344,"n":-3.4},{"t":212.75,"w":4.2,"d":298,"n":-2.1},{"t":212.792,"w":3.15,"d":289,"n":1.4},{"t":212.833,"w":1.8,"d":307,"n":2.4},{"t":212.875,"w":1.2,"d":178,"n":5.05},{"t":212.917,"w":1.7,"d":161,"n":5.3},{"t":212.958,"w":2.75,"d":180,"n":9.8},
{"t":213,"w":1.8,"d":158,"n":7.4},{"t":213.042,"w":1.8,"d":149,"n":0.8},{"t":213.083,"w":1.1,"d":143,"n":-2.1},{"t":213.125,"w":0.8,"d":137,"n":1.7},{"t":213.167,"w":1.7,"d":133,"n":2.9},{"t":213.208,"w":1.3,"d":137,"n":3.2},{"t":213.25,"w":2.1,"d":137,"n":6.6},{"t":213.292,"w":2.2,"d":153,"n":8.4},{"t":213.333,"w":1.4,"d":124,"n":5.3},{"t":213.375,"w":0.6,"d":137,"n":0.8},{"t":213.417,"w":2.6,"d":149,"n":-3.9},{"t":213.458,"w":3.45,"d":327,"n":-4.9},{"t":213.5,"w":3.25,"d":329,"n":-7.1},{"t":213.542,"w":4.3,"d":335,"n":-8.4},{"t":213.583,"w":4.8,"d":338,"n":-8.6},{"t":213.625,"w":4.4,"d":341,"n":-9.9},{"t":213.667,"w":4.05,"d":348,"n":-7.4},{"t":213.708,"w":3.6,"d":335,"n":-4.2},{"t":213.75,"w":3.95,"d":323,"n":-5.3},{"t":213.792,"w":4.05,"d":317,"n":-7.8},{"t":213.833,"w":4.6,"d":313,"n":-7.8},{"t":213.875,"w":4.65,"d":307,"n":-6},{"t":213.917,"w":3.75,"d":304,"n":-7.1},{"t":213.958,"w":3.25,"d":294,"n":-5.5},
{"t":214,"w":3.25,"d":289,"n":-6},{"t":214.042,"w":3.15,"d":307,"n":-7.6},{"t":214.083,"w":2.6,"d":304,"n":-7.6},{"t":214.125,"w":2.5,"d":294,"n":-7.6},{"t":214.167,"w":2.75,"d":277,"n":-6.3},{"t":214.208,"w":2.75,"d":273,"n":-5.5},{"t":214.25,"w":4.05,"d":261,"n":-2.8},{"t":214.292,"w":3.95,"d":257,"n":3.5},{"t":214.333,"w":4.05,"d":252,"n":15.1},{"t":214.375,"w":4.05,"d":248,"n":18.5},{"t":214.417,"w":4.05,"d":242,"n":17.5},{"t":214.458,"w":4.1,"d":245,"n":15.1},{"t":214.5,"w":4.1,"d":240,"n":15.1},{"t":214.542,"w":3.9,"d":236,"n":14.5},{"t":214.583,"w":3.55,"d":232,"n":11.6},{"t":214.625,"w":4.35,"d":224,"n":10.5},{"t":214.667,"w":4.35,"d":217,"n":10.1},{"t":214.708,"w":4.35,"d":207,"n":9.1}
]
},
"vconcat":[
{
"width":1054,"height":100,
"resolve":{"axis":{"x":"independent","y":"independent"}},
"layer":[
{"data":{"values":[{}]},"mark":{"type":"rule","color":"#808080","strokeWidth":1},
"encoding":{"y":{"datum":0,"type":"quantitative","scale":{"domain":[-0.04,0.02],"nice":false,"zero":false},"axis":{"orient":"right","values":[-0.04,-0.02,0,0.02],"labels":false,"title":null}}}},
{"data":{"name":"vort"},"transform":[{"fold":["hr","lr"],"as":["model","v"]}],
"mark":{"type":"line","strokeWidth":1.1,"opacity":0.75,"interpolate":"monotone","clip":true},
"encoding":{
"x":{"field":"t","type":"quantitative","scale":{"domain":[197,214.83],"nice":false,"zero":false},"axis":{"orient":"bottom","values":[198,200,202,204,206,208,210,212,214],"format":"d","title":null,"labelPadding":6}},
"y":{"field":"v","type":"quantitative","scale":{"domain":[-0.04,0.02],"nice":false,"zero":false},"axis":{"orient":"left","values":[-0.04,-0.02,0,0.02],"format":".2~f","labelPadding":12.5,"title":"Vorticity (1/s)","titleX":-58,"titleY":44,"titleAngle":-90,"titleAlign":"center","titleBaseline":"middle"}},
"color":{"field":"model","type":"nominal","scale":{"domain":["hr","lr"],"range":["#ff0000","#0000ff"]},
"legend":{"orient":"none","legendX":6,"legendY":57,"title":null,"fillColor":"#ffffff","strokeColor":"#999999","padding":2,"labelFont":"Liberation Serif","labelFontSize":18.5,"labelColor":"#000","symbolType":"stroke","symbolSize":289,"symbolStrokeWidth":1.3,"rowPadding":-3,"labelOffset":4,"labelExpr":"datum.label == 'hr' ? 'HR Model' : 'LR Model'"}}}},
{"data":{"values":[{}]},"mark":{"type":"text","text":"(a)","align":"left","baseline":"alphabetic","fontSize":21,"font":"Liberation Serif","color":"#000"},
"encoding":{
"x":{"datum":197.03,"type":"quantitative","scale":{"domain":[197,214.83],"nice":false,"zero":false},"axis":{"orient":"top","values":[198,200,202,204,206,208,210,212,214],"labels":false,"title":"Average Vorticity Marla Bay","titleX":506,"titleY":-4.5,"titleAngle":0,"titleAlign":"center","titleBaseline":"alphabetic","titleFontSize":20}},
"y":{"datum":0.026,"type":"quantitative","scale":{"domain":[-0.04,0.02],"nice":false,"zero":false},"axis":null}}}
]
},
{
"width":1054,"height":100,
"resolve":{"axis":{"x":"independent","y":"independent"}},
"layer":[
{"data":{"name":"elk"},"mark":{"type":"line","color":"#0000ff","strokeWidth":1,"opacity":0.6,"clip":true},
"encoding":{
"x":{"field":"t","type":"quantitative","scale":{"domain":[197,214.83],"nice":false,"zero":false},"axis":{"orient":"bottom","values":[198,200,202,204,206,208,210,212,214],"format":"d","title":null,"labelPadding":6}},
"y":{"field":"w","type":"quantitative","scale":{"domain":[0,9.1],"nice":false,"zero":false},"axis":{"orient":"left","values":[0,2,4,6,8],"format":"d","labelPadding":21.5,"title":"Wind Vel. (cm/s)","titleX":-58,"titleY":51,"titleAngle":-90,"titleAlign":"center","titleBaseline":"middle"}}}},
{"data":{"name":"elk"},"mark":{"type":"point","filled":true,"size":8,"color":"#0000ff","opacity":1,"clip":true},
"encoding":{
"x":{"field":"t","type":"quantitative","scale":{"domain":[197,214.83],"nice":false,"zero":false},"axis":null},
"y":{"field":"w","type":"quantitative","scale":{"domain":[0,9.1],"nice":false,"zero":false},"axis":{"orient":"right","values":[0,2,4,6,8],"labels":false,"title":null}}}},
{"data":{"values":[{}]},"mark":{"type":"text","text":"(b)","align":"left","baseline":"alphabetic","fontSize":21,"font":"Liberation Serif","color":"#000"},
"encoding":{
"x":{"datum":197.03,"type":"quantitative","scale":{"domain":[197,214.83],"nice":false,"zero":false},"axis":{"orient":"top","values":[198,200,202,204,206,208,210,212,214],"labels":false,"title":"Wind Speed Velocity Elk Point","titleX":506,"titleY":-4.5,"titleAngle":0,"titleAlign":"center","titleBaseline":"alphabetic","titleFontSize":20}},
"y":{"datum":9.67,"type":"quantitative","scale":{"domain":[0,9.1],"nice":false,"zero":false},"axis":null}}}
]
},
{
"width":1054,"height":100,
"resolve":{"axis":{"x":"independent","y":"independent"}},
"layer":[
{"data":{"values":[{}]},"mark":{"type":"rule","color":"#808080","strokeWidth":1},
"encoding":{"y":{"datum":180,"type":"quantitative","scale":{"domain":[-3,369],"nice":false,"zero":false},"axis":{"orient":"right","values":[90,180,270,360],"labels":false,"title":null}}}},
{"data":{"name":"elk"},"mark":{"type":"line","color":"#0000ff","strokeWidth":1,"opacity":0.6,"clip":true},
"encoding":{
"x":{"field":"t","type":"quantitative","scale":{"domain":[197,214.83],"nice":false,"zero":false},"axis":{"orient":"bottom","values":[198,200,202,204,206,208,210,212,214],"format":"d","title":null,"labelPadding":6}},
"y":{"field":"d","type":"quantitative","scale":{"domain":[-3,369],"nice":false,"zero":false},"axis":{"orient":"left","values":[90,180,270,360],"format":"d","labelPadding":13,"title":"Wind Dir. (°)","titleX":-58,"titleY":38,"titleAngle":-90,"titleAlign":"center","titleBaseline":"middle"}}}},
{"data":{"name":"elk"},"mark":{"type":"point","filled":true,"size":8,"color":"#0000ff","opacity":1,"clip":true},
"encoding":{
"x":{"field":"t","type":"quantitative","scale":{"domain":[197,214.83],"nice":false,"zero":false},"axis":null},
"y":{"field":"d","type":"quantitative","scale":{"domain":[-3,369],"nice":false,"zero":false},"axis":null}}},
{"data":{"values":[{}]},"mark":{"type":"text","text":"(c)","align":"left","baseline":"alphabetic","fontSize":21,"font":"Liberation Serif","color":"#000"},
"encoding":{
"x":{"datum":197.03,"type":"quantitative","scale":{"domain":[197,214.83],"nice":false,"zero":false},"axis":{"orient":"top","values":[198,200,202,204,206,208,210,212,214],"labels":false,"title":"Wind Direction Elk Point","titleX":506,"titleY":-4.5,"titleAngle":0,"titleAlign":"center","titleBaseline":"alphabetic","titleFontSize":20}},
"y":{"datum":402.5,"type":"quantitative","scale":{"domain":[-3,369],"nice":false,"zero":false},"axis":null}}}
]
},
{
"width":1054,"height":100,
"resolve":{"axis":{"x":"independent","y":"independent"}},
"layer":[
{"data":{"values":[{}]},"mark":{"type":"rule","color":"#808080","strokeWidth":1},
"encoding":{"y":{"datum":0,"type":"quantitative","scale":{"domain":[-10,21.5],"nice":false,"zero":false},"axis":{"orient":"right","values":[-10,0,10,20],"labels":false,"title":null}}}},
{"data":{"name":"elk"},"mark":{"type":"line","color":"#0000ff","strokeWidth":1,"opacity":0.6,"clip":true},
"encoding":{
"x":{"field":"t","type":"quantitative","scale":{"domain":[197,214.83],"nice":false,"zero":false},"axis":{"orient":"bottom","values":[198,200,202,204,206,208,210,212,214],"format":"d","labelPadding":4.5,"title":"Time(Days)","titleX":510,"titleY":34.5,"titleAlign":"center","titleBaseline":"alphabetic","titleFontSize":19.5}},
"y":{"field":"n","type":"quantitative","scale":{"domain":[-10,21.5],"nice":false,"zero":false},"axis":{"orient":"left","values":[-10,0,10,20],"format":"d","labelPadding":16,"title":"Vel. v N-S (cm/s)","titleX":-58,"titleY":52,"titleAngle":-90,"titleAlign":"center","titleBaseline":"middle"}}}},
{"data":{"name":"elk"},"mark":{"type":"point","filled":true,"size":8,"color":"#0000ff","opacity":1,"clip":true},
"encoding":{
"x":{"field":"t","type":"quantitative","scale":{"domain":[197,214.83],"nice":false,"zero":false},"axis":null},
"y":{"field":"n","type":"quantitative","scale":{"domain":[-10,21.5],"nice":false,"zero":false},"axis":null}}},
{"data":{"values":[{}]},"mark":{"type":"text","text":"(d)","align":"left","baseline":"alphabetic","fontSize":21,"font":"Liberation Serif","color":"#000"},
"encoding":{
"x":{"datum":197.03,"type":"quantitative","scale":{"domain":[197,214.83],"nice":false,"zero":false},"axis":{"orient":"top","values":[198,200,202,204,206,208,210,212,214],"labels":false,"title":"Elk Point, Velocity v N-S","titleX":506,"titleY":-4.5,"titleAngle":0,"titleAlign":"center","titleBaseline":"alphabetic","titleFontSize":20}},
"y":{"datum":23.8,"type":"quantitative","scale":{"domain":[-10,21.5],"nice":false,"zero":false},"axis":null}}}
]
}
]
}
